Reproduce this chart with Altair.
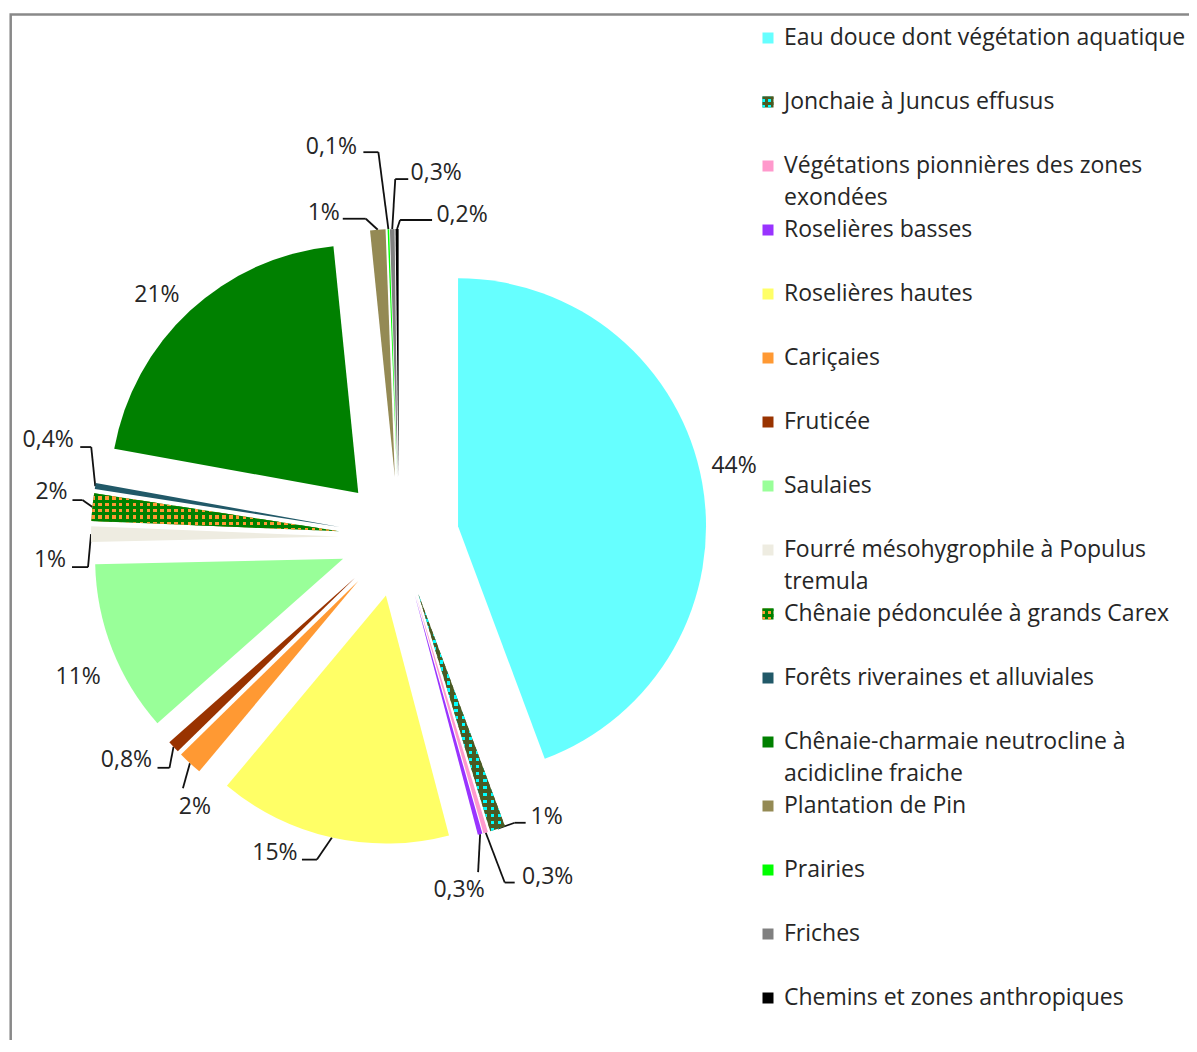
import altair as alt
import pandas as pd

# ---------------- data ----------------
categories = [
    "Eau douce dont végétation aquatique",
    "Jonchaie à Juncus effusus",
    "Végétations pionnières des zones exondées",
    "Roselières basses",
    "Roselières hautes",
    "Cariçaies",
    "Fruticée",
    "Saulaies",
    "Fourré mésohygrophile à Populus tremula",
    "Chênaie pédonculée à grands Carex",
    "Forêts riveraines et alluviales",
    "Chênaie-charmaie neutrocline à acidicline fraiche",
    "Plantation de Pin",
    "Prairies",
    "Friches",
    "Chemins et zones anthropiques",
]
values = [44.4, 1.0, 0.3, 0.3, 15.2, 1.6, 0.8, 11.2, 1.0, 1.8, 0.4, 20.6, 1.0, 0.1, 0.3, 0.2]
legend_text = [
    "Eau douce dont végétation aquatique",
    "Jonchaie à Juncus effusus",
    "Végétations pionnières des zones\nexondées",
    "Roselières basses",
    "Roselières hautes",
    "Cariçaies",
    "Fruticée",
    "Saulaies",
    "Fourré mésohygrophile à Populus\ntremula",
    "Chênaie pédonculée à grands Carex",
    "Forêts riveraines et alluviales",
    "Chênaie-charmaie neutrocline à\nacidicline fraiche",
    "Plantation de Pin",
    "Prairies",
    "Friches",
    "Chemins et zones anthropiques",
]

# ---------------- styles / layout ----------------
colors = ["#66FFFF", "#4A5A23", "#FF99CC", "#9933FF", "#FFFF66", "#FF9933",
          "#993300", "#99FF99", "#EEECE1", "#008000", "#215968", "#008000",
          "#948A54", "#00FF00", "#808080", "#000000"]
# label nudges relative to each slice's outer mid point (px)
label_dx = [32, 49, 62, -21, -57, 5, -47, -34, -41, -41, -47, -33, -54, -57, 44, 65]
label_dy = [-16, -12, 44, 56, 15, 44, 13, 28, 26, -15, -46, -16, -17, -82, -56, -14]
elbow_dx = [0, 17, 19, -2, -15, -7, -4, 0, -3, -10, -4, 0, -12, -10, 3, 3]
elbow_dy = [0, -6, 50, 38, 22, 25, 21, 0, 33, -7, -39, 0, -11, -77, -50, -9]
end_dx = [0, 28, 29, -2, -30, -7, -16, 0, -19, -20, -15, 0, -35, -25, 16, 35]
end_dy = [0, -6, 50, 38, 22, 25, 21, 0, 33, -7, -39, 0, -11, -77, -50, -9]
has_leader = [0, 1, 1, 1, 1, 1, 1, 0, 1, 1, 1, 0, 1, 1, 1, 1]

CX, CY = 391, 529
EXPLODE = 60
RADIUS = 248
FONT = "Open Sans"
FS = 23
TXT = "#262626"

df = pd.DataFrame({
    "order": list(range(len(categories))),
    "cat": categories,
    "value": values,
    "ldx": label_dx, "ldy": label_dy,
    "edx": elbow_dx, "edy": elbow_dy,
    "tdx": end_dx, "tdy": end_dy,
    "leader": has_leader,
})

rows = []
for i, t in enumerate(legend_text):
    for j, line in enumerate(t.split("\n")):
        rows.append({"order": i, "line": j, "text": line})
legend_df = pd.DataFrame(rows)


def stripes(color, n, frac, along_x):
    clear = "rgba(255,255,255,0)"
    stops = []
    for k in range(n):
        a, b, c = k / n, (k + frac) / n, (k + 1) / n
        stops += [
            alt.GradientStop(offset=round(a, 5), color=color),
            alt.GradientStop(offset=round(b, 5), color=color),
            alt.GradientStop(offset=round(b, 5), color=clear),
            alt.GradientStop(offset=round(c, 5), color=clear),
        ]
    if along_x:
        return alt.LinearGradient(gradient="linear", stops=stops, x1=0, y1=0, x2=1, y2=0)
    return alt.LinearGradient(gradient="linear", stops=stops, x1=0, y1=0, x2=0, y2=1)


base = (
    alt.Chart(df)
    .transform_joinaggregate(total="sum(value)")
    .transform_window(cum="sum(value)", sort=[alt.SortField(field="order", order="ascending")], frame=[None, 0])
    .transform_calculate(
        t0="(datum.cum - datum.value) / datum.total * 2 * PI",
        t1="datum.cum / datum.total * 2 * PI",
    )
    .transform_calculate(tm="(datum.t0 + datum.t1) / 2")
    .transform_calculate(
        cx=f"{CX} + {EXPLODE} * sin(datum.tm)",
        cy=f"{CY} - {EXPLODE} * cos(datum.tm)",
        px=f"{CX} + {EXPLODE + RADIUS} * sin(datum.tm)",
        py=f"{CY} - {EXPLODE + RADIUS} * cos(datum.tm)",
        label="datum.value >= 1 ? format(round(datum.value), 'd') + '%' : replace(format(datum.value, '.1f'), '.', ',') + '%'",
    )
    .transform_calculate(
        lx="datum.px + datum.ldx", ly="datum.py + datum.ldy",
        ex="datum.px + datum.edx", ey="datum.py + datum.edy",
        tx="datum.px + datum.tdx", ty="datum.py + datum.tdy",
    )
)

X = lambda f: alt.X(f, scale=None, axis=None)
Y = lambda f: alt.Y(f, scale=None, axis=None)

border = alt.Chart(pd.DataFrame({"k": [0]})).mark_rect(
    fillOpacity=0, stroke="#898989", strokeWidth=2.5
).encode(x=alt.value(2.7), x2=alt.value(1600), y=alt.value(6.5), y2=alt.value(1600))

lead = base.transform_filter("datum.leader == 1")
leader1 = lead.mark_rule(color="#111111", strokeWidth=1.8).encode(
    x=X("px:Q"), y=Y("py:Q"), x2="ex:Q", y2="ey:Q")
leader2 = lead.mark_rule(color="#111111", strokeWidth=1.8).encode(
    x=X("ex:Q"), y=Y("ey:Q"), x2="tx:Q", y2="ty:Q")

arc_enc = dict(
    x=X("cx:Q"), y=Y("cy:Q"),
    theta=alt.Theta("t0:Q", scale=None, stack=False), theta2="t1:Q",
)
slices = base.mark_arc(radius=RADIUS).encode(
    fill=alt.Fill("cat:N", scale=alt.Scale(domain=categories, range=colors), legend=None),
    **arc_enc,
)

# textured slices (dots)
jon = base.transform_filter(alt.datum.order == 1)
jon_b = jon.mark_arc(radius=RADIUS, fill=stripes("#00FFFF", 12, 0.45, True)).encode(**arc_enc)
jon_c = jon.mark_arc(radius=RADIUS, fill=stripes(colors[1], 34, 0.55, False)).encode(**arc_enc)
chp = base.transform_filter(alt.datum.order == 9)
chp_b = chp.mark_arc(radius=RADIUS, fill=stripes("#FF9933", 36, 0.5, True)).encode(**arc_enc)
chp_c = chp.mark_arc(radius=RADIUS, fill=stripes(colors[9], 6, 0.5, False)).encode(**arc_enc)

labels = base.mark_text(font=FONT, fontSize=FS, color=TXT, align="center", baseline="middle").encode(
    x=X("lx:Q"), y=Y("ly:Q"), text="label:N")

# legend
leg_base = alt.Chart(df).transform_calculate(ly="30 + 64 * datum.order")
leg_sq = leg_base.mark_square(size=121, opacity=1).encode(
    x=alt.value(760), y=Y("ly:Q"),
    fill=alt.Fill("cat:N", scale=alt.Scale(domain=categories, range=colors), legend=None))
leg_j = leg_base.transform_filter(alt.datum.order == 1)
leg_j_b = leg_j.mark_square(size=121, opacity=1, fill=stripes("#00FFFF", 2, 0.5, True)).encode(x=alt.value(760), y=Y("ly:Q"))
leg_j_c = leg_j.mark_square(size=121, opacity=1, fill=stripes(colors[1], 2, 0.5, False)).encode(x=alt.value(760), y=Y("ly:Q"))
leg_c = leg_base.transform_filter(alt.datum.order == 9)
leg_c_b = leg_c.mark_square(size=121, opacity=1, fill=stripes("#FF9933", 2, 0.5, True)).encode(x=alt.value(760), y=Y("ly:Q"))
leg_c_c = leg_c.mark_square(size=121, opacity=1, fill=stripes(colors[9], 2, 0.5, False)).encode(x=alt.value(760), y=Y("ly:Q"))

leg_txt = alt.Chart(legend_df).transform_calculate(
    ly="30 + 64 * datum.order + 32 * datum.line"
).mark_text(font=FONT, fontSize=FS, color=TXT, align="left", baseline="middle").encode(
    x=alt.value(776), y=Y("ly:Q"), text="text:N")

chart = alt.layer(
    border, leader1, leader2, slices, jon_b, jon_c, chp_b, chp_c, labels,
    leg_sq, leg_j_b, leg_j_c, leg_c_b, leg_c_c, leg_txt,
).properties(
    width=1181, height=1032, padding=0,
    autosize=alt.AutoSizeParams(type="none"),
).configure_view(stroke=None)

chart.save("out.html", embed_options={"renderer": "svg", "actions": False})
